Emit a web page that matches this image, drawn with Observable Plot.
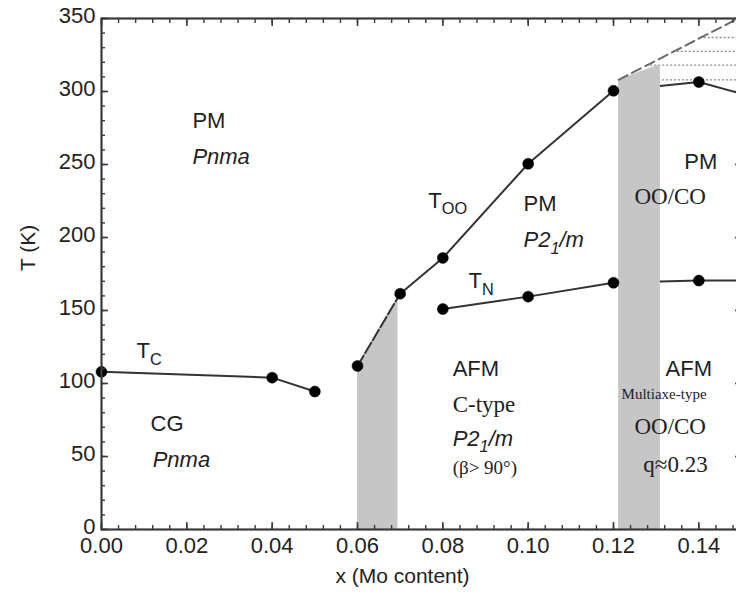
<!DOCTYPE html>
<html>
<head>
<meta charset="utf-8">
<script src="https://cdn.jsdelivr.net/npm/d3@7"></script>
<script src="https://cdn.jsdelivr.net/npm/@observablehq/plot@0.6"></script>
<style>
  body { margin: 0; background: #fff; }
  #chart { width: 736px; height: 597px; overflow: hidden; }
  #chart svg { max-width: none; }
</style>
</head>
<body>
<div id="chart"></div>
<script>
// Transition temperatures vs Mo content x
const tcX = [0.00, 0.04, 0.05];
const tcT = [108, 104, 94.5];

const tooX = [0.06, 0.07, 0.08, 0.10, 0.12, 0.14];
const tooT = [112, 161.5, 186, 250.5, 300.5, 306.5];
const tooTailX = [0.14, 0.15];
const tooTailT = [306.5, 298.5];

const tnX = [0.08, 0.10, 0.12, 0.14];
const tnT = [151, 159.5, 169, 170.5];
const tnTailX = [0.14, 0.15];
const tnTailT = [170.5, 170.5];

// Two-phase (shaded) regions
const band1X = [0.06, 0.0695];
const band1T = [112, 159.5];
const band2X = [0.1212, 0.131];
const band2T = [308, 318.5];

// Upper boundary (dashed) and the dotted levels beneath it
const upperX = [0.1212, 0.1492];
const upperT = [308, 350];
const levelT = [308, 318, 327.5, 337];
const levelStartX = [0.1212, 0.1278, 0.134, 0.1403];

// Axis ticks
const yMajor = [0, 50, 100, 150, 200, 250, 300, 350];
const xMajor = [0, 0.02, 0.04, 0.06, 0.08, 0.10, 0.12, 0.14];
const yMinor = d3.range(0, 351, 10);
const xMinor = d3.range(0, 0.1501, 0.004);

// Phase labels
const sansLabels = [
  {label: "PM", x: 0.0213, T: 280},
  {label: "CG", x: 0.0115, T: 72},
  {label: "PM", x: 0.0989, T: 223},
  {label: "AFM", x: 0.0823, T: 110},
  {label: "PM", x: 0.1366, T: 251.5},
  {label: "AFM", x: 0.1322, T: 110}
];
const transitionLabels = [
  {label: "T_{C}", x: 0.0082, T: 122},
  {label: "T_{OO}", x: 0.0766, T: 225},
  {label: "T_{N}", x: 0.086, T: 170}
];
const groupLabels = [
  {label: "Pnma", x: 0.0213, T: 255},
  {label: "Pnma", x: 0.012, T: 47.3},
  {label: "P2_{1}/m", x: 0.0989, T: 198},
  {label: "P2_{1}/m", x: 0.0823, T: 62}
];
const serifLabels = [
  {label: "C-type", x: 0.0823, T: 85.6},
  {label: "OO/CO", x: 0.1249, T: 228},
  {label: "OO/CO", x: 0.1249, T: 70.5},
  {label: "q≈0.23", x: 0.127, T: 44.5}
];
const angleLabels = [{label: "(β> 90°)", x: 0.0823, T: 42}];
const orderLabels = [{label: "Multiaxe-type", x: 0.1219, T: 92.5}];

const pts = (xs, ts) => xs.map((x, i) => ({x, T: ts[i]}));

const SANS = "'Liberation Sans', Arial, Helvetica, sans-serif";
const SERIF = "'Liberation Serif', 'Times New Roman', serif";
const INK = "#222";
const LINE = "#333";
const SHADE = "#c6c6c6";
const AXIS = "#3a3a3a";

const chart = Plot.plot({
  width: 741,
  height: 597,
  marginLeft: 101,
  marginRight: 0,
  marginTop: 18,
  marginBottom: 68,
  style: {fontFamily: SANS, color: INK, background: "#fff", maxWidth: "none"},
  x: {domain: [0, 0.15]},
  y: {domain: [0, 350]},
  marks: [
    // dotted levels under the upper boundary
    Plot.ruleY(levelT.map((t, i) => ({x1: levelStartX[i], x2: 0.15, T: t})), {
      y: "T", x1: "x1", x2: "x2", stroke: "#8a8a8a", strokeWidth: 1.3, strokeDasharray: "2,2"
    }),
    // transition lines
    Plot.line(pts(tcX, tcT), {x: "x", y: "T", stroke: LINE, strokeWidth: 2}),
    Plot.line(pts(tooX.slice(1), tooT.slice(1)), {x: "x", y: "T", stroke: LINE, strokeWidth: 2}),
    Plot.line(pts(tooTailX, tooTailT), {x: "x", y: "T", stroke: LINE, strokeWidth: 2}),
    Plot.line(pts(tnX, tnT), {x: "x", y: "T", stroke: LINE, strokeWidth: 2}),
    Plot.line(pts(tnTailX, tnTailT), {x: "x", y: "T", stroke: LINE, strokeWidth: 2}),
    // shaded coexistence regions
    Plot.areaY(pts(band2X, band2T), {x: "x", y: "T", fill: SHADE}),
    Plot.areaY(pts(band1X, band1T), {x: "x", y: "T", fill: SHADE}),
    // dashed boundaries
    Plot.line(pts(tooX.slice(0, 2), tooT.slice(0, 2)), {x: "x", y: "T", stroke: LINE, strokeWidth: 2, strokeDasharray: "12,3"}),
    Plot.line(pts(upperX, upperT), {x: "x", y: "T", stroke: "#6a6a6a", strokeWidth: 2, strokeDasharray: "10,5"}),
    // measured points
    Plot.dot([...pts(tcX, tcT), ...pts(tooX, tooT), ...pts(tnX, tnT)], {x: "x", y: "T", r: 5.5, fill: "#000", stroke: "#000", strokeWidth: 0.5}),
    // frame and inward ticks
    Plot.frame({stroke: AXIS, strokeWidth: 2.2}),
    Plot.axisY(yMajor, {anchor: "left", tickSize: -7, fill: "none", label: null, stroke: AXIS, strokeWidth: 1.6}),
    Plot.axisY(yMinor, {anchor: "left", tickSize: -4, fill: "none", label: null, stroke: AXIS, strokeWidth: 1.4}),
    Plot.axisY(yMajor, {anchor: "right", tickSize: -7, fill: "none", label: null, stroke: AXIS, strokeWidth: 1.6}),
    Plot.axisY(yMinor, {anchor: "right", tickSize: -4, fill: "none", label: null, stroke: AXIS, strokeWidth: 1.4}),
    Plot.axisX(xMajor, {anchor: "bottom", tickSize: -7, fill: "none", label: null, stroke: AXIS, strokeWidth: 1.6}),
    Plot.axisX(xMinor, {anchor: "bottom", tickSize: -4, fill: "none", label: null, stroke: AXIS, strokeWidth: 1.4}),
    Plot.axisX(xMajor, {anchor: "top", tickSize: -7, fill: "none", label: null, stroke: AXIS, strokeWidth: 1.6}),
    Plot.axisX(xMinor, {anchor: "top", tickSize: -4, fill: "none", label: null, stroke: AXIS, strokeWidth: 1.4}),
    // tick labels
    Plot.axisY(yMajor, {anchor: "left", tickSize: 0, tickPadding: 6, dy: -3, label: null, fontSize: 22, fill: INK}),
    Plot.axisX(xMajor, {anchor: "bottom", tickSize: 0, tickPadding: 8, label: null, fontSize: 22, fill: INK, tickFormat: d3.format(".2f")}),
    // axis titles
    Plot.text(["T (K)"], {frameAnchor: "left", dx: -73, dy: -3, rotate: -90, fontSize: 21, fill: INK, text: d => d}),
    Plot.text(["x (Mo content)"], {frameAnchor: "bottom", dx: -19, dy: 53, fontSize: 21, fill: INK, text: d => d}),
    // phase labels
    Plot.text(sansLabels, {x: "x", y: "T", text: "label", textAnchor: "start", fontSize: 22, fill: INK, fontFamily: SANS}),
    Plot.text(transitionLabels, {x: "x", y: "T", text: "label", textAnchor: "start", fontSize: 22, fill: INK, fontFamily: SANS}),
    Plot.text(groupLabels, {x: "x", y: "T", text: "label", textAnchor: "start", fontSize: 22, fill: INK, fontFamily: SANS, fontStyle: "italic"}),
    Plot.text(serifLabels, {x: "x", y: "T", text: "label", textAnchor: "start", fontSize: 23, fill: INK, fontFamily: SERIF}),
    Plot.text(angleLabels, {x: "x", y: "T", text: "label", textAnchor: "start", fontSize: 19, fill: INK, fontFamily: SERIF}),
    Plot.text(orderLabels, {x: "x", y: "T", text: "label", textAnchor: "start", fontSize: 15, fill: INK, fontFamily: SERIF})
  ]
});

document.getElementById("chart").appendChild(chart);

// Turn "_{...}" runs into lowered, smaller subscripts
const NS = "http://www.w3.org/2000/svg";
for (const t of chart.querySelectorAll("text")) {
  const s = t.textContent;
  if (!s.includes("_{")) continue;
  const fs = parseFloat(getComputedStyle(t).fontSize) || 22;
  const shift = 0.28 * fs;
  t.textContent = "";
  let lowered = false;
  for (const part of s.split(/(_\{[^}]*\})/)) {
    if (!part) continue;
    const span = document.createElementNS(NS, "tspan");
    if (part.startsWith("_{")) {
      span.textContent = part.slice(2, -1);
      span.setAttribute("font-size", (0.74 * fs).toFixed(1));
      span.setAttribute("dy", lowered ? 0 : shift);
      lowered = true;
    } else {
      span.textContent = part;
      if (lowered) span.setAttribute("dy", -shift);
      lowered = false;
    }
    t.appendChild(span);
  }
}
</script>
</body>
</html>
